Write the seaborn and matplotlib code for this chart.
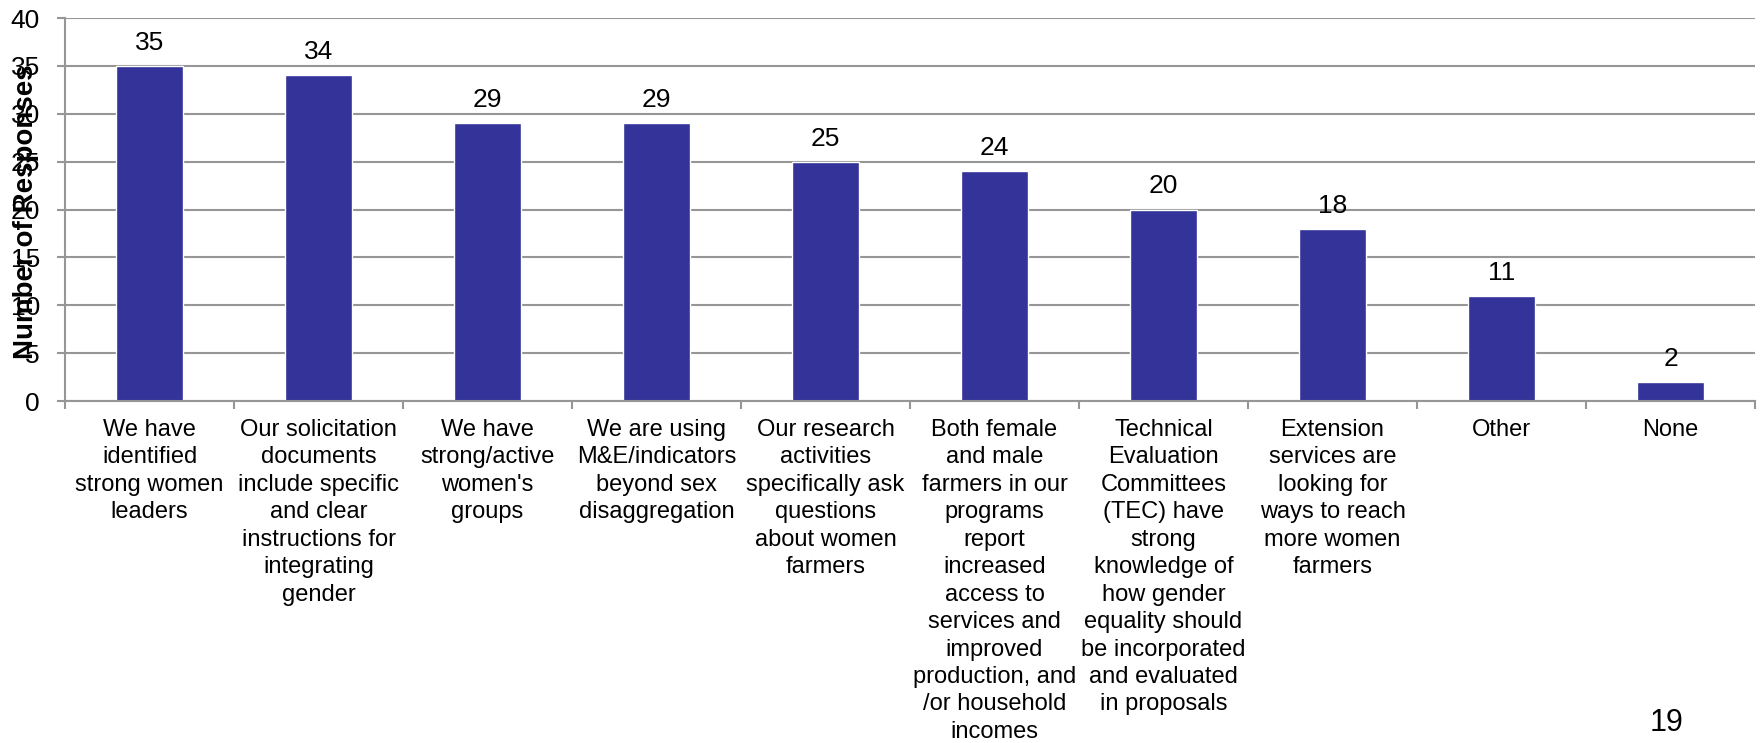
import matplotlib
matplotlib.use("Agg")
import matplotlib.pyplot as plt
import seaborn as sns
import pandas as pd
import numpy as np

categories = [
    "We have\nidentified\nstrong women\nleaders",
    "Our solicitation\ndocuments\ninclude specific\nand clear\ninstructions for\nintegrating\ngender",
    "We have\nstrong/active\nwomen's\ngroups",
    "We are using\nM&E/indicators\nbeyond sex\ndisaggregation",
    "Our research\nactivities\nspecifically ask\nquestions\nabout women\nfarmers",
    "Both female\nand male\nfarmers in our\nprograms\nreport\nincreased\naccess to\nservices and\nimproved\nproduction, and\n/or household\nincomes",
    "Technical\nEvaluation\nCommittees\n(TEC) have\nstrong\nknowledge of\nhow gender\nequality should\nbe incorporated\nand evaluated\nin proposals",
    "Extension\nservices are\nlooking for\nways to reach\nmore women\nfarmers",
    "Other",
    "None",
]
values = [35, 34, 29, 29, 25, 24, 20, 18, 11, 2]
y_ticks = [0, 5, 10, 15, 20, 25, 30, 35, 40]
y_label = "Number of Responses"
page_number = "19"

sns.set_theme(style="white")
plt.rcParams["font.family"] = ["Liberation Sans", "DejaVu Sans"]
plt.rcParams["text.color"] = "black"
plt.rcParams["axes.labelcolor"] = "black"

fig = plt.figure(figsize=(17.6, 7.43), dpi=100)
ax = fig.add_axes([65/1760, 1-401/743, (1755-65)/1760, (401-18)/743])

df = pd.DataFrame({"cat": categories, "val": values})
sns.barplot(data=df, x="cat", y="val", color="#333399", width=0.4,
            saturation=1, ax=ax)

grid_c = "#969696"
ax.set_ylim(0, 40)
ax.set_xlim(-0.5, len(categories) - 0.5)
ax.set_yticks(y_ticks)
ax.set_yticklabels([str(t) for t in y_ticks], fontsize=19)
ax.yaxis.grid(True, color=grid_c, linewidth=1.5)
ax.set_axisbelow(True)
ax.tick_params(axis="y", left=True, length=6, width=1.5, color=grid_c, pad=12,
               labelcolor="black")

ax.set_xticks(range(len(categories)))
ax.set_xticklabels(categories, fontsize=17, linespacing=1.32, va="top")
ax.tick_params(axis="x", which="major", length=0, pad=13, labelcolor="black")
ax.set_xticks(np.arange(-0.5, len(categories), 1.0), minor=True)
ax.tick_params(axis="x", which="minor", bottom=True, length=6, width=1.5, color=grid_c)

for s in ["top", "right"]:
    ax.spines[s].set_visible(False)
for s in ["left", "bottom"]:
    ax.spines[s].set_color(grid_c)
    ax.spines[s].set_linewidth(1.5)

ax.bar_label(ax.containers[0], labels=[str(v) for v in values], fontsize=19,
             padding=8, color="black")

ax.set_xlabel("")
ax.set_ylabel(y_label, fontsize=20, fontweight="bold", color="black")
ax.yaxis.set_label_coords(-0.0154, 0.493)

fig.text(1667/1760, 1-723/743, page_number, fontsize=22, ha="center",
         va="center", color="black")

fig.savefig("out.png", dpi=100)
